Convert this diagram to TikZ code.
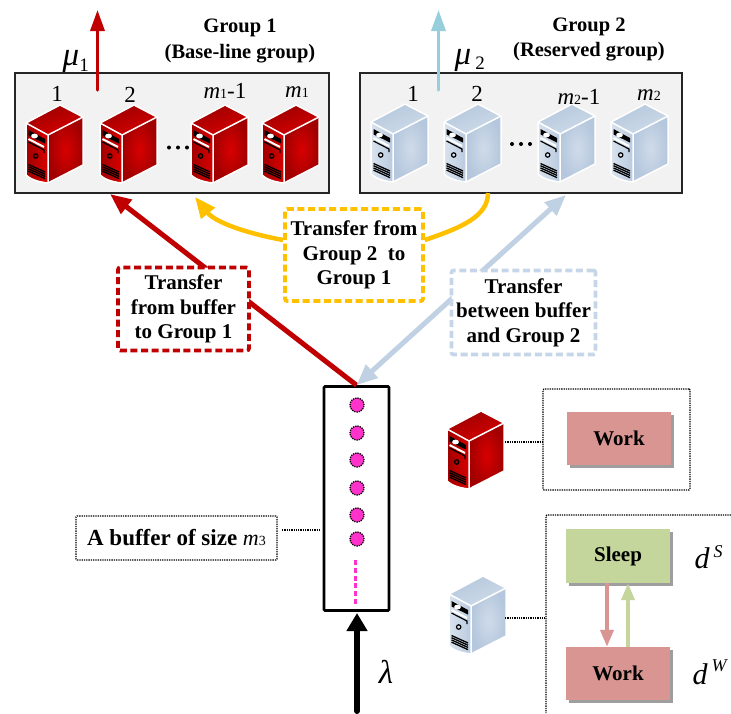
\documentclass[tikz,border=0pt]{standalone}
\usepackage{fontspec}
\setmainfont{Liberation Serif}
\usetikzlibrary{arrows.meta,calc,shadows}
\definecolor{redA}{HTML}{C00000}
\definecolor{yelA}{HTML}{FFC000}
\definecolor{bluA}{HTML}{C1D1E4}
\definecolor{bluB}{HTML}{C6D5E7}
\definecolor{cyaA}{HTML}{97CEDC}
\definecolor{magA}{HTML}{FF33CC}
\definecolor{workC}{HTML}{D99592}
\definecolor{sleepC}{HTML}{C4D69C}
\definecolor{panel}{HTML}{F2F2F2}
\definecolor{rA}{HTML}{9A0000}
\definecolor{rB}{HTML}{D80000}
\definecolor{rC}{HTML}{A00000}
\definecolor{rD}{HTML}{D80000}
\definecolor{rE}{HTML}{D80000}
\definecolor{rF}{HTML}{A00000}
\definecolor{bA}{HTML}{B4C7DC}
\definecolor{bB}{HTML}{CFDCEA}
\definecolor{bC}{HTML}{D9E3EE}
\definecolor{bD}{HTML}{B9CADF}
\definecolor{bE}{HTML}{CFDBE9}
\definecolor{bF}{HTML}{B5C7DD}
\newcommand{\bodyfont}{\fontsize{21}{24.5}\selectfont\bfseries}
\newcommand{\titlefont}{\fontsize{20.5}{24.5}\selectfont\bfseries}
\newcommand{\numfont}{\fontsize{23}{26}\selectfont}
\newcommand{\mvar}[1]{{\itshape m}{\fontsize{14}{14}\selectfont #1}}
\tikzset{
  x=1pt,y=-1pt,
  pics/srv/.style n args={6}{code={
    \shade[left color=#1,right color=#2,shading angle=20]
      (0,18)--(34,0)--(57,12)--(22,30)--cycle;
    \shade[left color=#3,right color=#4]
      (0,18)--(22,30)--(22,78) .. controls (12,77) and (4,74) .. (0,70)--cycle;
    \shade[inner color=#5,outer color=#6]
      (22,30)--(57,12)--(57,60)--(22,78)--cycle;
    \draw[white,line width=1.5,line join=round]
      (0,18)--(34,0)--(57,12)--(57,60)--(22,78) .. controls (12,77) and (4,74) .. (0,70)--cycle;
    \draw[white,line width=1.5,line join=round] (0,18)--(22,30)--(57,12) (22,30)--(22,78);
    \fill[black] (2.5,25)--(19,34)--(19,38.5)--(2.5,30.5)--cycle;
    \fill[white] (8.5,31) ellipse (3.4 and 2.4);
    \draw[white,line width=2] (2.5,34)--(18,42);
    \draw[black,line width=1.2] (2.5,37)--(18,45)--(18,48);
    \draw[black,line width=1.2,fill=#3] (9.7,51) circle (2.2);
    \foreach \k in {0,2.2,4.4,6.6}
      \draw[black,line width=1.3] (2.5,59.5+\k)--(19,67+\k);
  }},
  dashbox/.style={line width=3.6,dash pattern=on 7pt off 3.6pt,rounded corners=2,fill=white,
    align=center,inner sep=0pt,font=\bodyfont},
  flow/.style={line width=5,-{Triangle[length=21,width=17]}},
  upflow/.style={line width=3.4,line cap=round,-{Triangle[length=21,width=14]}},
  grp/.style={draw=black!85,line width=1.5,fill=panel,inner sep=0pt},
  titletxt/.style={font=\titlefont,inner sep=0pt},
  numtxt/.style={font=\numfont,inner sep=0pt},
  mathtxt/.style={font=\fontsize{33}{33}\selectfont\itshape,inner sep=0pt},
  dotline/.style={draw=black,line width=1.3,densely dotted},
  dotbox/.style={dotline,inner sep=0pt,rounded corners=1},
  job/.style={circle,fill=magA,draw=black,line width=1.3,densely dotted,minimum size=14,inner sep=0pt},
  state/.style={inner sep=0pt,font=\bodyfont},
  stateshadow/.style={fill=black!38},
  smallflow/.style={line width=3.8,-{Triangle[length=17,width=13]}},
}
\newcommand{\redsrvat}[2]{\pic[shift={(#1,#2)}] {srv={rA}{rB}{rC}{rD}{rE}{rF}};}
\newcommand{\blusrvat}[2]{\pic[shift={(#1,#2)}] {srv={bA}{bB}{bC}{bD}{bE}{bF}};}
\begin{document}
\begin{tikzpicture}
\useasboundingbox (0,0) rectangle (731,713);
\fill[white] (0,0) rectangle (731,713);

% group panels
\node[grp,minimum width=314,minimum height=120] (g1) at (172,133) {};
\node[grp,minimum width=322,minimum height=120] (g2) at (521,133) {};

% free connector ends
\coordinate (mu1s) at (97.5,90);
\coordinate (mu1t) at (97.5,10);
\coordinate (mu2s) at (438.5,90);
\coordinate (mu2t) at (438.5,10);
\coordinate (g1in) at (110,194);
\coordinate (g1yel) at (195,197);
\coordinate (g2yel) at (488,193);
\coordinate (g2in) at (566,195);
\coordinate (lamS) at (357,711);

\draw[upflow,redA] (mu1s)--(mu1t);
\draw[upflow,cyaA] (mu2s)--(mu2t);

% servers group 1
\redsrvat{26}{105}\redsrvat{100}{105}\redsrvat{191}{105}\redsrvat{262}{105}
% servers group 2
\blusrvat{371}{104}\blusrvat{444}{104}\blusrvat{538}{104}\blusrvat{611}{104}

% titles
\node[titletxt] (t1a) at (240,28) {Group 1};
\node[titletxt] (t1b) at (240,54) {(Base-line group)};
\node[titletxt] (t2a) at (589,27) {Group 2};
\node[titletxt] (t2b) at (589,52) {(Reserved group)};

% mu labels
\node[mathtxt] (mu1) at (71,61) {μ};
\node[font=\fontsize{19}{19}\selectfont,inner sep=0pt] (mu1i) at (84,65) {1};
\node[mathtxt] (mu2) at (463,60) {μ};
\node[font=\fontsize{19}{19}\selectfont,inner sep=0pt] (mu2i) at (480,63) {2};

% server numbers
\node[numtxt] (n1) at (57,94) {1};
\node[numtxt] (n2) at (130,95) {2};
\node[numtxt] (n3) at (225,91) {\mvar{1}-1};
\node[numtxt] (n4) at (297,92) {\mvar{1}};
\node[numtxt] (n5) at (413,94) {1};
\node[numtxt] (n6) at (477,94) {2};
\node[numtxt] (n7) at (579,97) {\mvar{2}-1};
\node[numtxt] (n8) at (649,95) {\mvar{2}};
\foreach \x in {169,178,187} \fill[black] (\x,147.5) circle (2);
\foreach \x in {512,521,530} \fill[black] (\x,144) circle (2);

% buffer
\node[draw=black,line width=2.6,rounded corners=1,minimum width=65,minimum height=224,inner sep=0pt] (buf) at (356.5,498.5) {};
\coordinate (bufin) at (357,613);

% transfer connectors
\draw[flow,redA] (buf.north)--(g1in);
\draw[line width=5,bluA,{Triangle[length=21,width=17]}-{Triangle[length=21,width=17]}] (buf.north)--(g2in);
\draw[line width=4.5,yelA,-{Triangle[length=21,width=17]}]
  (283,240) .. controls (245,233) and (215,222) .. (g1yel);
\node[dashbox,draw=yelA,minimum width=138,minimum height=92] (by) at (354,255)
  {Transfer from\\Group 2\ \ to\\Group 1};
\draw[line width=4.5,yelA] ([yshift=15]by.east) .. controls (460,228) and (488,217) .. (g2yel);
\node[dashbox,draw=redA,minimum width=131,minimum height=83] (br) at (183.5,309)
  {Transfer\\from buffer\\to Group 1};
\node[dashbox,draw=bluB,minimum width=144,minimum height=84] (bb) at (523.5,312.5)
  {Transfer\\between buffer\\and Group 2};

% jobs
\node[job] (j1) at (357,405) {};
\node[job] (j2) at (357,433) {};
\node[job] (j3) at (357,460) {};
\node[job] (j4) at (357,488) {};
\node[job] (j5) at (357,515) {};
\node[job] (j6) at (357,539) {};
\coordinate (ds) at (355.5,560);
\coordinate (de) at (355.5,604);
\draw[magA,line width=3,dash pattern=on 5pt off 2.8pt] (ds)--(de);

% arrival
\draw[black,line width=6,line cap=round,-{Triangle[length=18,width=20]}] (lamS)--(bufin);
\node[mathtxt] (lam) at (386,672) {λ};

% buffer label
\node[dotbox,minimum width=201,minimum height=44] (bl) at (176.5,538)
  {\fontsize{23}{24}\selectfont\bfseries A buffer of size {\mdseries\fontsize{22}{24}\selectfont\mvar{3}}};
\coordinate (ble) at (282,530);
\coordinate (bre) at (320,530);
\draw[dotline] (ble)--(bre);

% legend: red server
\redsrvat{447}{411}
\coordinate (ls1) at (505,442);
\node[dotbox,minimum width=147,minimum height=101] (lb1) at (616.5,439.5) {};
\draw[dotline] (ls1)--(lb1.west |- ls1);
\fill[stateshadow] (570,415) rectangle (674,468);
\node[state,fill=workC,minimum width=104,minimum height=53] (w1) at (619,438.5) {Work};

% legend: blue server
\blusrvat{449}{576}
\coordinate (ls2) at (505,618);
\coordinate (lbTR) at (731,515);
\coordinate (lbTL) at (546,515);
\coordinate (lbBL) at (546,713);
\draw[dotline,rounded corners=1] (lbTR)--(lbTL)--(lbBL);
\draw[dotline] (ls2)--(ls2 -| lbTL);
\fill[stateshadow] (569,532) rectangle (673,586);
\fill[stateshadow] (569,650) rectangle (673,703);
\node[state,fill=sleepC,minimum width=104,minimum height=54] (sl) at (618,556) {Sleep};
\node[state,fill=workC,minimum width=104,minimum height=53] (w2) at (618,673.5) {Work};
\draw[smallflow,workC] ([xshift=-11]sl.south)--([xshift=-11]w2.north);
\draw[smallflow,sleepC] ([xshift=10]w2.north)--([xshift=10]sl.south);

% d labels
\node[font=\fontsize{30}{30}\selectfont\itshape,inner sep=0pt] (dS) at (702,558) {d};
\node[font=\fontsize{18}{18}\selectfont\itshape,inner sep=0pt] (dSs) at (718,552) {S};
\node[font=\fontsize{30}{30}\selectfont\itshape,inner sep=0pt] (dW) at (700,674) {d};
\node[font=\fontsize{18}{18}\selectfont\itshape,inner sep=0pt] (dWs) at (719,666) {W};
\end{tikzpicture}
\end{document}
